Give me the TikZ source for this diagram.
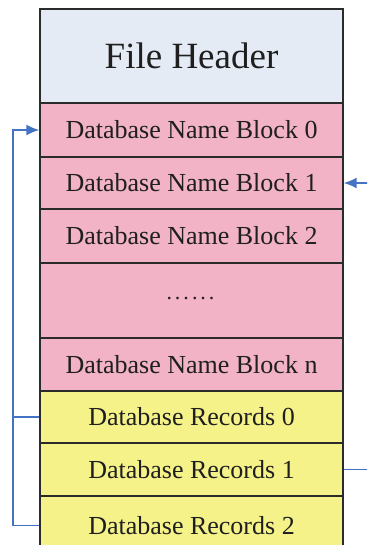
\documentclass[tikz,border=0pt]{standalone}
\usepackage{fontspec}
\setmainfont{Liberation Serif}
\usetikzlibrary{arrows.meta}
\definecolor{hdr}{HTML}{E5EBF5}
\definecolor{pnk}{HTML}{F2B3C6}
\definecolor{ylw}{HTML}{F5F28A}
\definecolor{arr}{HTML}{4472C4}
\definecolor{edge}{HTML}{2B2B2B}
\tikzset{
  rowbox/.style={draw=edge, line width=1.4pt, minimum width=303pt, inner sep=0pt, text=black!88,
    font=\fontsize{26}{28}\selectfont},
  namebox/.style={rowbox, fill=pnk},
  recbox/.style={rowbox, fill=ylw},
  link/.style={draw=arr, line width=1.6pt},
  tip/.style={-{Latex[length=13pt,width=11pt]}}
}
\begin{document}
\begin{tikzpicture}[x=1pt,y=-1pt]
\useasboundingbox (0,0) rectangle (367,545);
\clip (0,0) rectangle (367,545);
\node[rowbox, fill=hdr, minimum height=94pt, font=\fontsize{37}{40}\selectfont] (hd) at (191.5,56) {File Header};
\node[namebox, minimum height=54pt] (dnb0) at (191.5,130) {Database Name Block 0};
\node[namebox, minimum height=52pt] (dnb1) at (191.5,183) {Database Name Block 1};
\node[namebox, minimum height=54pt] (dnb2) at (191.5,236) {Database Name Block 2};
\node[namebox, minimum height=75pt] (dots) at (191.5,300.5) {};
\node[font=\fontsize{22}{24}\selectfont, text=black!88, anchor=base, inner sep=0pt] (dottext) at (190.5,299) {.\kern3pt.\kern3pt.\kern3pt.\kern3pt.\kern3pt.};
\node[namebox, minimum height=53pt] (dnbn) at (191.5,364.5) {Database Name Block n};
\node[recbox, minimum height=52pt] (dr0) at (191.5,417) {Database Records 0};
\node[recbox, minimum height=53pt] (dr1) at (191.5,469.5) {Database Records 1};
\node[recbox, minimum height=59pt] (dr2) at (191.5,525.5) {Database Records 2};
\coordinate (lbus) at (13,0);
\coordinate (redge) at (370,0);
\draw[link, tip] (dr2.west) -- (dr2.west -| lbus) -- (dnb0.west -| lbus) -- (dnb0.west);
\draw[link] (dr0.west) -- (dr0.west -| lbus);
\draw[link, tip] (dnb1.east -| redge) -- (dnb1.east);
\draw[link] (dr1.east) -- (dr1.east -| redge);
\end{tikzpicture}
\end{document}
